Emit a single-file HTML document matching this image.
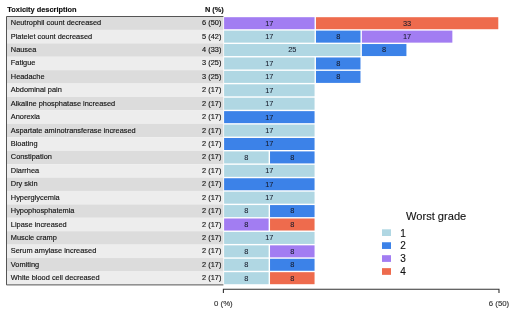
<!DOCTYPE html><html><head><meta charset="utf-8"><style>html,body{margin:0;padding:0;background:#fff;width:520px;height:312px;overflow:hidden}svg{display:block;will-change:transform}text{font-family:"Liberation Sans",sans-serif}</style></head><body>
<svg width="520" height="312" viewBox="0 0 520 312">
<rect x="6.5" y="16.50" width="216.90" height="13.42" fill="#dcdcdc"/>
<rect x="6.5" y="29.92" width="216.90" height="13.42" fill="#ededed"/>
<rect x="6.5" y="43.34" width="216.90" height="13.42" fill="#dcdcdc"/>
<rect x="6.5" y="56.76" width="216.90" height="13.42" fill="#ededed"/>
<rect x="6.5" y="70.18" width="216.90" height="13.42" fill="#dcdcdc"/>
<rect x="6.5" y="83.60" width="216.90" height="13.42" fill="#ededed"/>
<rect x="6.5" y="97.02" width="216.90" height="13.42" fill="#dcdcdc"/>
<rect x="6.5" y="110.44" width="216.90" height="13.42" fill="#ededed"/>
<rect x="6.5" y="123.86" width="216.90" height="13.42" fill="#dcdcdc"/>
<rect x="6.5" y="137.28" width="216.90" height="13.42" fill="#ededed"/>
<rect x="6.5" y="150.70" width="216.90" height="13.42" fill="#dcdcdc"/>
<rect x="6.5" y="164.12" width="216.90" height="13.42" fill="#ededed"/>
<rect x="6.5" y="177.54" width="216.90" height="13.42" fill="#dcdcdc"/>
<rect x="6.5" y="190.96" width="216.90" height="13.42" fill="#ededed"/>
<rect x="6.5" y="204.38" width="216.90" height="13.42" fill="#dcdcdc"/>
<rect x="6.5" y="217.80" width="216.90" height="13.42" fill="#ededed"/>
<rect x="6.5" y="231.22" width="216.90" height="13.42" fill="#dcdcdc"/>
<rect x="6.5" y="244.64" width="216.90" height="13.42" fill="#ededed"/>
<rect x="6.5" y="258.06" width="216.90" height="13.42" fill="#dcdcdc"/>
<rect x="6.5" y="271.48" width="216.90" height="13.42" fill="#ededed"/>
<path d="M223.40 16.5 H6.5 V284.90 H223.40" fill="none" stroke="#555" stroke-width="1"/>
<text x="7.30" y="11.80" font-size="7.4" font-weight="bold" fill="#111" stroke="#111" stroke-width="0.14">Toxicity description</text>
<text x="223.80" y="11.80" font-size="7.4" font-weight="bold" fill="#111" stroke="#111" stroke-width="0.14" text-anchor="end">N (%)</text>
<text x="10.80" y="25.20" font-size="7.4" fill="#111" stroke="#111" stroke-width="0.14">Neutrophil count decreased</text>
<text x="221.40" y="25.20" font-size="7.4" fill="#111" stroke="#111" stroke-width="0.14" text-anchor="end">6 (50)</text>
<rect x="224.10" y="17.20" width="90.46" height="12.02" fill="#a27df2"/>
<text x="269.33" y="25.60" font-size="7.4" fill="#151a2a" stroke="#151a2a" stroke-width="0.06" text-anchor="middle">17</text>
<rect x="315.96" y="17.20" width="182.32" height="12.02" fill="#ee6b4d"/>
<text x="407.12" y="25.60" font-size="7.4" fill="#151a2a" stroke="#151a2a" stroke-width="0.06" text-anchor="middle">33</text>
<text x="10.80" y="38.62" font-size="7.4" fill="#111" stroke="#111" stroke-width="0.14">Platelet count decreased</text>
<text x="221.40" y="38.62" font-size="7.4" fill="#111" stroke="#111" stroke-width="0.14" text-anchor="end">5 (42)</text>
<rect x="224.10" y="30.62" width="90.46" height="12.02" fill="#b0d7e3"/>
<text x="269.33" y="39.02" font-size="7.4" fill="#151a2a" stroke="#151a2a" stroke-width="0.06" text-anchor="middle">17</text>
<rect x="315.96" y="30.62" width="44.53" height="12.02" fill="#3c82e8"/>
<text x="338.23" y="39.02" font-size="7.4" fill="#151a2a" stroke="#151a2a" stroke-width="0.06" text-anchor="middle">8</text>
<rect x="361.89" y="30.62" width="90.46" height="12.02" fill="#a27df2"/>
<text x="407.12" y="39.02" font-size="7.4" fill="#151a2a" stroke="#151a2a" stroke-width="0.06" text-anchor="middle">17</text>
<text x="10.80" y="52.04" font-size="7.4" fill="#111" stroke="#111" stroke-width="0.14">Nausea</text>
<text x="221.40" y="52.04" font-size="7.4" fill="#111" stroke="#111" stroke-width="0.14" text-anchor="end">4 (33)</text>
<rect x="224.10" y="44.04" width="136.39" height="12.02" fill="#b0d7e3"/>
<text x="292.30" y="52.44" font-size="7.4" fill="#151a2a" stroke="#151a2a" stroke-width="0.06" text-anchor="middle">25</text>
<rect x="361.89" y="44.04" width="44.53" height="12.02" fill="#3c82e8"/>
<text x="384.15" y="52.44" font-size="7.4" fill="#151a2a" stroke="#151a2a" stroke-width="0.06" text-anchor="middle">8</text>
<text x="10.80" y="65.46" font-size="7.4" fill="#111" stroke="#111" stroke-width="0.14">Fatigue</text>
<text x="221.40" y="65.46" font-size="7.4" fill="#111" stroke="#111" stroke-width="0.14" text-anchor="end">3 (25)</text>
<rect x="224.10" y="57.46" width="90.46" height="12.02" fill="#b0d7e3"/>
<text x="269.33" y="65.86" font-size="7.4" fill="#151a2a" stroke="#151a2a" stroke-width="0.06" text-anchor="middle">17</text>
<rect x="315.96" y="57.46" width="44.53" height="12.02" fill="#3c82e8"/>
<text x="338.23" y="65.86" font-size="7.4" fill="#151a2a" stroke="#151a2a" stroke-width="0.06" text-anchor="middle">8</text>
<text x="10.80" y="78.88" font-size="7.4" fill="#111" stroke="#111" stroke-width="0.14">Headache</text>
<text x="221.40" y="78.88" font-size="7.4" fill="#111" stroke="#111" stroke-width="0.14" text-anchor="end">3 (25)</text>
<rect x="224.10" y="70.88" width="90.46" height="12.02" fill="#b0d7e3"/>
<text x="269.33" y="79.28" font-size="7.4" fill="#151a2a" stroke="#151a2a" stroke-width="0.06" text-anchor="middle">17</text>
<rect x="315.96" y="70.88" width="44.53" height="12.02" fill="#3c82e8"/>
<text x="338.23" y="79.28" font-size="7.4" fill="#151a2a" stroke="#151a2a" stroke-width="0.06" text-anchor="middle">8</text>
<text x="10.80" y="92.30" font-size="7.4" fill="#111" stroke="#111" stroke-width="0.14">Abdominal pain</text>
<text x="221.40" y="92.30" font-size="7.4" fill="#111" stroke="#111" stroke-width="0.14" text-anchor="end">2 (17)</text>
<rect x="224.10" y="84.30" width="90.46" height="12.02" fill="#b0d7e3"/>
<text x="269.33" y="92.70" font-size="7.4" fill="#151a2a" stroke="#151a2a" stroke-width="0.06" text-anchor="middle">17</text>
<text x="10.80" y="105.72" font-size="7.4" fill="#111" stroke="#111" stroke-width="0.14">Alkaline phosphatase increased</text>
<text x="221.40" y="105.72" font-size="7.4" fill="#111" stroke="#111" stroke-width="0.14" text-anchor="end">2 (17)</text>
<rect x="224.10" y="97.72" width="90.46" height="12.02" fill="#b0d7e3"/>
<text x="269.33" y="106.12" font-size="7.4" fill="#151a2a" stroke="#151a2a" stroke-width="0.06" text-anchor="middle">17</text>
<text x="10.80" y="119.14" font-size="7.4" fill="#111" stroke="#111" stroke-width="0.14">Anorexia</text>
<text x="221.40" y="119.14" font-size="7.4" fill="#111" stroke="#111" stroke-width="0.14" text-anchor="end">2 (17)</text>
<rect x="224.10" y="111.14" width="90.46" height="12.02" fill="#3c82e8"/>
<text x="269.33" y="119.54" font-size="7.4" fill="#151a2a" stroke="#151a2a" stroke-width="0.06" text-anchor="middle">17</text>
<text x="10.80" y="132.56" font-size="7.4" fill="#111" stroke="#111" stroke-width="0.14">Aspartate aminotransferase increased</text>
<text x="221.40" y="132.56" font-size="7.4" fill="#111" stroke="#111" stroke-width="0.14" text-anchor="end">2 (17)</text>
<rect x="224.10" y="124.56" width="90.46" height="12.02" fill="#b0d7e3"/>
<text x="269.33" y="132.96" font-size="7.4" fill="#151a2a" stroke="#151a2a" stroke-width="0.06" text-anchor="middle">17</text>
<text x="10.80" y="145.98" font-size="7.4" fill="#111" stroke="#111" stroke-width="0.14">Bloating</text>
<text x="221.40" y="145.98" font-size="7.4" fill="#111" stroke="#111" stroke-width="0.14" text-anchor="end">2 (17)</text>
<rect x="224.10" y="137.98" width="90.46" height="12.02" fill="#3c82e8"/>
<text x="269.33" y="146.38" font-size="7.4" fill="#151a2a" stroke="#151a2a" stroke-width="0.06" text-anchor="middle">17</text>
<text x="10.80" y="159.40" font-size="7.4" fill="#111" stroke="#111" stroke-width="0.14">Constipation</text>
<text x="221.40" y="159.40" font-size="7.4" fill="#111" stroke="#111" stroke-width="0.14" text-anchor="end">2 (17)</text>
<rect x="224.10" y="151.40" width="44.53" height="12.02" fill="#b0d7e3"/>
<text x="246.37" y="159.80" font-size="7.4" fill="#151a2a" stroke="#151a2a" stroke-width="0.06" text-anchor="middle">8</text>
<rect x="270.03" y="151.40" width="44.53" height="12.02" fill="#3c82e8"/>
<text x="292.29" y="159.80" font-size="7.4" fill="#151a2a" stroke="#151a2a" stroke-width="0.06" text-anchor="middle">8</text>
<text x="10.80" y="172.82" font-size="7.4" fill="#111" stroke="#111" stroke-width="0.14">Diarrhea</text>
<text x="221.40" y="172.82" font-size="7.4" fill="#111" stroke="#111" stroke-width="0.14" text-anchor="end">2 (17)</text>
<rect x="224.10" y="164.82" width="90.46" height="12.02" fill="#b0d7e3"/>
<text x="269.33" y="173.22" font-size="7.4" fill="#151a2a" stroke="#151a2a" stroke-width="0.06" text-anchor="middle">17</text>
<text x="10.80" y="186.24" font-size="7.4" fill="#111" stroke="#111" stroke-width="0.14">Dry skin</text>
<text x="221.40" y="186.24" font-size="7.4" fill="#111" stroke="#111" stroke-width="0.14" text-anchor="end">2 (17)</text>
<rect x="224.10" y="178.24" width="90.46" height="12.02" fill="#3c82e8"/>
<text x="269.33" y="186.64" font-size="7.4" fill="#151a2a" stroke="#151a2a" stroke-width="0.06" text-anchor="middle">17</text>
<text x="10.80" y="199.66" font-size="7.4" fill="#111" stroke="#111" stroke-width="0.14">Hyperglycemia</text>
<text x="221.40" y="199.66" font-size="7.4" fill="#111" stroke="#111" stroke-width="0.14" text-anchor="end">2 (17)</text>
<rect x="224.10" y="191.66" width="90.46" height="12.02" fill="#b0d7e3"/>
<text x="269.33" y="200.06" font-size="7.4" fill="#151a2a" stroke="#151a2a" stroke-width="0.06" text-anchor="middle">17</text>
<text x="10.80" y="213.08" font-size="7.4" fill="#111" stroke="#111" stroke-width="0.14">Hypophosphatemia</text>
<text x="221.40" y="213.08" font-size="7.4" fill="#111" stroke="#111" stroke-width="0.14" text-anchor="end">2 (17)</text>
<rect x="224.10" y="205.08" width="44.53" height="12.02" fill="#b0d7e3"/>
<text x="246.37" y="213.48" font-size="7.4" fill="#151a2a" stroke="#151a2a" stroke-width="0.06" text-anchor="middle">8</text>
<rect x="270.03" y="205.08" width="44.53" height="12.02" fill="#3c82e8"/>
<text x="292.29" y="213.48" font-size="7.4" fill="#151a2a" stroke="#151a2a" stroke-width="0.06" text-anchor="middle">8</text>
<text x="10.80" y="226.50" font-size="7.4" fill="#111" stroke="#111" stroke-width="0.14">Lipase increased</text>
<text x="221.40" y="226.50" font-size="7.4" fill="#111" stroke="#111" stroke-width="0.14" text-anchor="end">2 (17)</text>
<rect x="224.10" y="218.50" width="44.53" height="12.02" fill="#a27df2"/>
<text x="246.37" y="226.90" font-size="7.4" fill="#151a2a" stroke="#151a2a" stroke-width="0.06" text-anchor="middle">8</text>
<rect x="270.03" y="218.50" width="44.53" height="12.02" fill="#ee6b4d"/>
<text x="292.29" y="226.90" font-size="7.4" fill="#151a2a" stroke="#151a2a" stroke-width="0.06" text-anchor="middle">8</text>
<text x="10.80" y="239.92" font-size="7.4" fill="#111" stroke="#111" stroke-width="0.14">Muscle cramp</text>
<text x="221.40" y="239.92" font-size="7.4" fill="#111" stroke="#111" stroke-width="0.14" text-anchor="end">2 (17)</text>
<rect x="224.10" y="231.92" width="90.46" height="12.02" fill="#b0d7e3"/>
<text x="269.33" y="240.32" font-size="7.4" fill="#151a2a" stroke="#151a2a" stroke-width="0.06" text-anchor="middle">17</text>
<text x="10.80" y="253.34" font-size="7.4" fill="#111" stroke="#111" stroke-width="0.14">Serum amylase increased</text>
<text x="221.40" y="253.34" font-size="7.4" fill="#111" stroke="#111" stroke-width="0.14" text-anchor="end">2 (17)</text>
<rect x="224.10" y="245.34" width="44.53" height="12.02" fill="#b0d7e3"/>
<text x="246.37" y="253.74" font-size="7.4" fill="#151a2a" stroke="#151a2a" stroke-width="0.06" text-anchor="middle">8</text>
<rect x="270.03" y="245.34" width="44.53" height="12.02" fill="#a27df2"/>
<text x="292.29" y="253.74" font-size="7.4" fill="#151a2a" stroke="#151a2a" stroke-width="0.06" text-anchor="middle">8</text>
<text x="10.80" y="266.76" font-size="7.4" fill="#111" stroke="#111" stroke-width="0.14">Vomiting</text>
<text x="221.40" y="266.76" font-size="7.4" fill="#111" stroke="#111" stroke-width="0.14" text-anchor="end">2 (17)</text>
<rect x="224.10" y="258.76" width="44.53" height="12.02" fill="#b0d7e3"/>
<text x="246.37" y="267.16" font-size="7.4" fill="#151a2a" stroke="#151a2a" stroke-width="0.06" text-anchor="middle">8</text>
<rect x="270.03" y="258.76" width="44.53" height="12.02" fill="#3c82e8"/>
<text x="292.29" y="267.16" font-size="7.4" fill="#151a2a" stroke="#151a2a" stroke-width="0.06" text-anchor="middle">8</text>
<text x="10.80" y="280.18" font-size="7.4" fill="#111" stroke="#111" stroke-width="0.14">White blood cell decreased</text>
<text x="221.40" y="280.18" font-size="7.4" fill="#111" stroke="#111" stroke-width="0.14" text-anchor="end">2 (17)</text>
<rect x="224.10" y="272.18" width="44.53" height="12.02" fill="#b0d7e3"/>
<text x="246.37" y="280.58" font-size="7.4" fill="#151a2a" stroke="#151a2a" stroke-width="0.06" text-anchor="middle">8</text>
<rect x="270.03" y="272.18" width="44.53" height="12.02" fill="#ee6b4d"/>
<text x="292.29" y="280.58" font-size="7.4" fill="#151a2a" stroke="#151a2a" stroke-width="0.06" text-anchor="middle">8</text>
<path d="M223.40 293.00 V289.2 H498.98 V293.00" fill="none" stroke="#333" stroke-width="1.1"/>
<text x="223.40" y="305.50" font-size="7.8" fill="#333" stroke="#333" stroke-width="0.14" text-anchor="middle">0 (%)</text>
<text x="498.98" y="305.50" font-size="7.8" fill="#333" stroke="#333" stroke-width="0.14" text-anchor="middle">6 (50)</text>
<text x="406.00" y="219.80" font-size="11.1" fill="#111" stroke="#111" stroke-width="0.12">Worst grade</text>
<rect x="382.0" y="229.30" width="9" height="6.7" fill="#b0d7e3"/>
<text x="400.20" y="236.50" font-size="10" fill="#111" stroke="#111" stroke-width="0.12">1</text>
<rect x="382.0" y="242.25" width="9" height="6.7" fill="#3c82e8"/>
<text x="400.20" y="249.45" font-size="10" fill="#111" stroke="#111" stroke-width="0.12">2</text>
<rect x="382.0" y="255.20" width="9" height="6.7" fill="#a27df2"/>
<text x="400.20" y="262.40" font-size="10" fill="#111" stroke="#111" stroke-width="0.12">3</text>
<rect x="382.0" y="268.15" width="9" height="6.7" fill="#ee6b4d"/>
<text x="400.20" y="275.35" font-size="10" fill="#111" stroke="#111" stroke-width="0.12">4</text>
</svg></body></html>
